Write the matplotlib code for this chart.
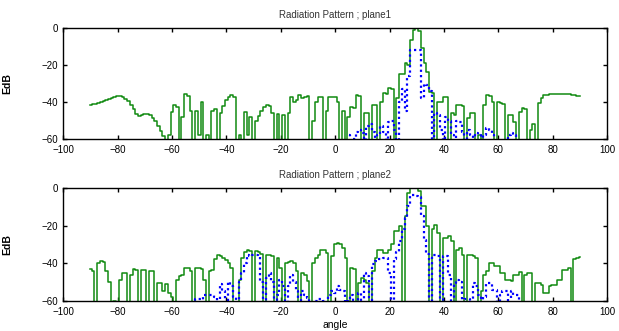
import numpy as np
import matplotlib.pyplot as plt

# ==============================
# Dados (passo de 1 grau)
# ==============================
angulos = np.arange(-90, 91)

plano1_verde = [
    -41.6, -41.2, -40.8, -40.4, -40.0, -39.5, -39.0, -38.4, -37.8, -37.2,
    -36.7, -36.8, -37.3, -38.2, -39.5, -41.5, -44.0, -46.2, -47.4, -47.2,
    -46.5, -46.2, -47.0, -48.5, -50.5, -53.0, -55.5, -58.5, -62, -58,
    -45.5, -41.5, -42.5, -62, -48, -35.5, -36.5, -45, -62, -45,
    -58, -40, -62, -58, -62, -45, -43.5, -62, -46, -42,
    -39, -37, -36.2, -37, -62, -58, -62, -45.5, -58, -48,
    -62, -50, -47.4, -45, -42.5, -41.6, -42, -46, -62, -46.6,
    -62, -47, -62, -46, -37, -40, -39, -36.2, -38, -37,
    -36.6, -62, -50, -39.7, -37, -37.5, -62, -45, -37, -37,
    -37.5, -40, -62, -45, -62, -48, -42.5, -43, -36.2, -36.5,
    -62, -46, -46, -62, -41.6, -41.6, -62, -40, -35.3, -35.5,
    -32.6, -33, -62, -38, -25, -25, -19, -20, -6.5, -1,
    0, -1.5, -11, -19, -23.6, -34.4, -35.3, -62, -39.7, -40,
    -37, -37, -62, -46, -47, -41.6, -41.6, -42, -62, -48.8,
    -46, -46, -62, -58, -62, -41.6, -36.2, -36.5, -40, -62,
    -40, -40.6, -41, -62, -47, -47, -50.8, -62, -45.2, -43.4,
    -44, -62, -55, -51.7, -62, -40.6, -38, -36.2, -36, -35.8,
    -35.8, -35.8, -35.8, -35.8, -35.8, -35.8, -35.9, -36.1, -36.4, -36.6,
    -36.6,
]

angulos_azul1 = np.arange(5, 68)
plano1_azul = [
    -58, -62, -60, -56, -55, -57, -62, -53, -52, -56,
    -62, -58, -53, -56, -62, -51, -50, -55, -62, -40,
    -33, -45, -26, -12, -12, -12, -12, -38, -30, -31,
    -34, -60, -46, -47, -55, -62, -48, -50, -58, -62,
    -50, -51, -56, -62, -55, -58, -62, -57, -58, -62,
    -58, -54, -55, -58, -62, -62, -62, -62, -62, -58,
    -57, -58, -62,
]

plano2_verde = [
    -43, -44, -62, -40, -39, -39.5, -44, -50, -62, -60,
    -62, -48.7, -45, -45, -62, -46, -43, -43.5, -62, -43.4,
    -43.4, -62, -44.2, -44, -62, -50.4, -50.4, -55, -51, -55.8,
    -58, -62, -48.7, -47, -46, -42.5, -42.5, -44, -62, -42.5,
    -42.5, -43, -48.7, -62, -44, -43.4, -38, -35.4, -36, -37.2,
    -38.5, -39.8, -42.5, -62, -62, -48.7, -37.2, -34, -32.8, -33.5,
    -62, -33.6, -34, -35, -62, -35.4, -35.4, -36, -62, -37.2,
    -42.5, -62, -39.8, -39.5, -39, -40, -44, -62, -45.1, -46,
    -49.5, -62, -39.8, -37, -35.4, -32.8, -33, -34.5, -62, -36.3,
    -30, -29.2, -29.5, -31.9, -37.2, -62, -42.5, -43, -62, -50.4,
    -47.8, -49, -50.4, -62, -44.2, -37.2, -32.7, -33, -34.5, -34.5,
    -32.7, -30, -22.8, -22.8, -20.2, -62, -15, -2.7, 0, 0,
    0, -1.5, -9.7, -9.7, -20.2, -62, -22, -19.5, -23.9, -62,
    -26.5, -26.5, -25.7, -28.3, -62, -32.7, -31.9, -35.4, -62, -35.4,
    -35.4, -36.3, -37, -62, -55, -46, -44.2, -40, -39.8, -41.6,
    -41.6, -45, -45, -48.7, -48.7, -49.6, -46, -46, -44.8, -62,
    -46, -45, -45, -62, -50.4, -50.4, -51.3, -55.8, -55.8, -52.1,
    -51.3, -51.3, -48.7, -48.7, -43.4, -43.4, -42.5, -62, -38, -37,
    -36.6,
]

angulos_azul2 = np.arange(-52, 69)
plano2_azul = [
    -62, -59, -59, -62, -57, -57, -57, -57, -58, -62,
    -51, -55, -62, -50, -52, -58, -62, -50, -45, -40,
    -35.4, -36, -35.4, -35.4, -36, -50, -62, -48, -45, -50,
    -62, -57, -48.7, -52, -62, -52, -46, -50, -55, -62,
    -55, -57, -58.4, -62, -62, -60, -59, -59, -60, -62,
    -57, -55, -56, -52, -54, -55, -62, -60, -57, -62,
    -60, -55.8, -62, -45, -47, -62, -40.6, -39, -38, -38,
    -37, -37, -45, -62, -38, -34, -28.3, -22, -16, -9.7,
    -3.5, -3.5, -4, -5, -15, -27.4, -35, -62, -35.4, -35.4,
    -36, -62, -36.3, -36.3, -46, -62, -50.4, -48.7, -50, -62,
    -59, -59, -62, -50.4, -52, -57, -62, -58, -50.4, -50.4,
    -54, -54, -62, -57, -55, -55, -62, -55, -57, -57,
    -62,
]

titulos = ['Radiation Pattern ; plane1', 'Radiation Pattern ; plane2']
verdes = [plano1_verde, plano2_verde]
azuis = [(angulos_azul1, plano1_azul), (angulos_azul2, plano2_azul)]

# ==============================
# Figura
# ==============================
plt.rcParams['font.family'] = ['Liberation Sans', 'DejaVu Sans']
fig = plt.figure(figsize=(6.19, 3.31), dpi=100)
posicoes = [[0.102, 0.580, 0.879, 0.335], [0.102, 0.091, 0.879, 0.341]]

for i in range(2):
    ax = fig.add_axes(posicoes[i])
    ax.plot(angulos, verdes[i], color='#118a11', lw=1.1, drawstyle='steps-mid')
    xa, ya = azuis[i]
    ax.plot(xa, ya, color='#0000ff', lw=1.6, ls=(0, (1, 1.4)), drawstyle='steps-mid')
    ax.set_xlim(-100, 100)
    ax.set_ylim(-60, 0)
    ax.set_xticks(np.arange(-100, 101, 20))
    ax.set_yticks([-60, -40, -20, 0])
    ax.tick_params(direction='in', length=3, width=1, labelsize=7,
                   top=True, right=True)
    ax.tick_params(axis='x', pad=4.5)
    ax.tick_params(axis='y', pad=3.5)
    for s in ax.spines.values():
        s.set_linewidth(1)
    ax.set_title(titulos[i], fontsize=7, pad=7, color='#333333')
    ax.set_ylabel('EdB', fontsize=7.5, fontweight='bold')
    ax.yaxis.set_label_coords(-0.094, 0.5)

ax.set_xlabel('angle', fontsize=7.5, labelpad=2)

plt.savefig('out.png', dpi=100)
